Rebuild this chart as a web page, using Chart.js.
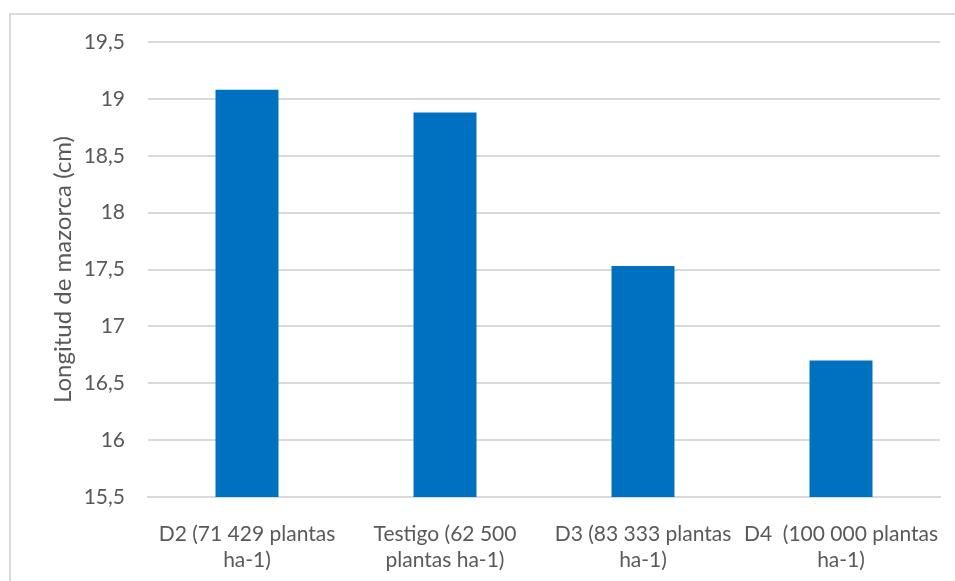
<!DOCTYPE html>
<html>
<head>
<meta charset="utf-8">
<script src="https://cdn.jsdelivr.net/npm/chart.js@4"></script>
<style>
  html, body { margin: 0; padding: 0; background: #ffffff; }
  #wrap { position: relative; width: 955px; height: 581px; overflow: hidden; }
  #frame { position: absolute; left: 9px; top: 13px; width: 960px; height: 600px; border: 2px solid #d9d9d9; box-sizing: border-box; }
  canvas { position: absolute; left: 0; top: 0; }
</style>
</head>
<body>
<div id="wrap">
  <div id="frame"></div>
  <canvas id="c" width="955" height="581"></canvas>
</div>
<script>
const categories = [
  ["D2 (71 429 plantas", "ha-1)"],
  ["Testigo (62 500", "plantas ha-1)"],
  ["D3 (83 333 plantas", "ha-1)"],
  ["D4  (100 000 plantas", "ha-1)"]
];
const values = [19.08, 18.88, 17.53, 16.70];
const yTitle = "Longitud de mazorca (cm)";
const yMin = 15.5, yMax = 19.5, yStep = 0.5;

const textColor = "#595959";
const fontFamily = "Lato, 'Liberation Sans', sans-serif";

new Chart(document.getElementById("c"), {
  type: "bar",
  data: {
    labels: categories,
    datasets: [{
      data: values,
      backgroundColor: "#0070C0",
      borderWidth: 0,
      categoryPercentage: 1,
      barPercentage: 0.318
    }]
  },
  options: {
    responsive: false,
    animation: false,
    events: [],
    layout: { padding: { left: 0, right: 15, top: 42, bottom: 0 } },
    plugins: { legend: { display: false }, tooltip: { enabled: false }, title: { display: false } },
    scales: {
      x: {
        grid: { display: false, drawTicks: false },
        border: { display: true, color: "#d9d9d9", width: 2 },
        ticks: {
          color: textColor,
          font: { family: fontFamily, size: 21, lineHeight: 1.26 },
          padding: 24,
          maxRotation: 0,
          autoSkip: false
        },
        afterFit: (s) => { s.height = 84; s.paddingLeft = 0; s.paddingRight = 0; }
      },
      y: {
        min: yMin, max: yMax,
        grid: { color: "#d9d9d9", lineWidth: 2, drawTicks: false },
        border: { display: false },
        ticks: {
          stepSize: yStep,
          color: textColor,
          font: { family: fontFamily, size: 21 },
          padding: 23,
          callback: (v) => String(v).replace(".", ",")
        },
        title: {
          display: true,
          text: yTitle,
          color: textColor,
          font: { family: fontFamily, size: 24, lineHeight: 1.2 },
          padding: { top: 49, bottom: 0 }
        },
        afterFit: (s) => { s.width = 148; s.paddingTop = 0; s.paddingBottom = 0; }
      }
    }
  }
});
</script>
</body>
</html>
